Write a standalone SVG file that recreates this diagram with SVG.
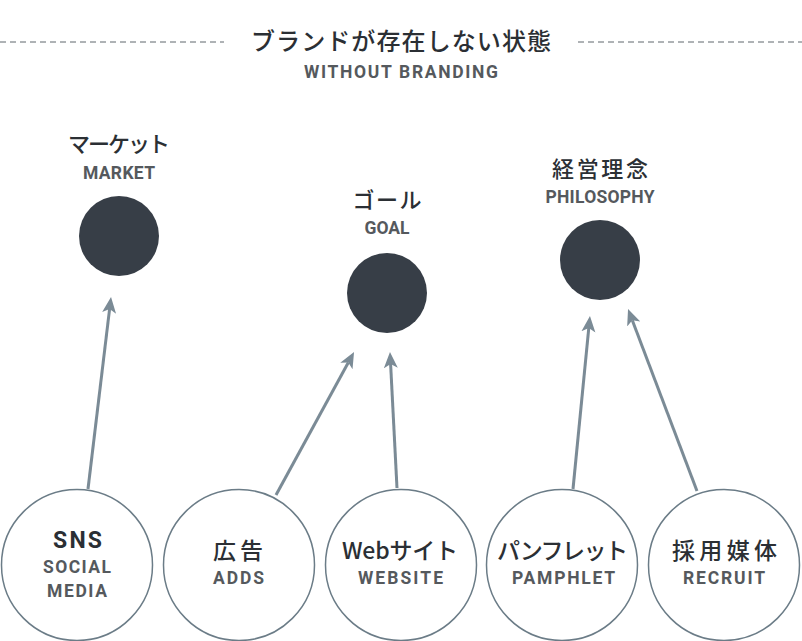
<svg xmlns="http://www.w3.org/2000/svg" width="802" height="641" viewBox="0 0 802 641">
<style>
.jp{font-family:"Noto Sans CJK JP","Noto Sans",sans-serif;font-weight:500;fill:#2b2f34;text-anchor:middle}
.en{font-family:Roboto,"Liberation Sans",sans-serif;font-weight:700;fill:#55595d;text-anchor:middle}
.dash{stroke:#5f666c;stroke-width:1;stroke-dasharray:6 4;fill:none}
.goal{fill:#373e47}
.src{fill:#fff;stroke:#6b7c87;stroke-width:1.5}
.arr{stroke:#7b8b96;stroke-width:3;fill:none;marker-end:url(#ah)}
</style>
<defs>
<marker id="ah" markerUnits="userSpaceOnUse" markerWidth="20" markerHeight="16" refX="4" refY="7" orient="auto">
<path d="M0,0 L16,7 L0,14 L4,7 z" fill="#7b8b96"/>
</marker>
</defs>
<g id="title">
<line class="dash" x1="0" y1="42" x2="224" y2="42"/>
<line class="dash" x1="578" y1="42" x2="802" y2="42"/>
<text class="jp" x="401" y="50" font-size="24" textLength="300" lengthAdjust="spacing">ブランドが存在しない状態</text>
<text class="en" x="401" y="78" font-size="17.5" textLength="194" lengthAdjust="spacing">WITHOUT BRANDING</text>
</g>
<g id="market">
<text class="jp" x="119" y="152" font-size="22" textLength="102" lengthAdjust="spacing">マーケット</text>
<text class="en" x="119" y="179" font-size="17.5" textLength="72" lengthAdjust="spacing">MARKET</text>
<circle class="goal" cx="119" cy="236" r="40"/>
</g>
<g id="goal">
<text class="jp" x="387" y="208" font-size="22" textLength="69" lengthAdjust="spacing">ゴール</text>
<text class="en" x="387" y="234" font-size="17.5" textLength="45" lengthAdjust="spacing">GOAL</text>
<circle class="goal" cx="387" cy="293" r="40"/>
</g>
<g id="philosophy">
<text class="jp" x="600" y="177" font-size="22" textLength="96" lengthAdjust="spacing">経営理念</text>
<text class="en" x="600" y="203" font-size="17.5" textLength="109" lengthAdjust="spacing">PHILOSOPHY</text>
<circle class="goal" cx="600" cy="260" r="40"/>
</g>
<g id="sns">
<circle class="src" cx="77" cy="565" r="75.5"/>
<text class="en" x="77.5" y="548" font-size="23" style="fill:#2b2f34" textLength="49" lengthAdjust="spacing">SNS</text>
<text class="en" x="77" y="573" font-size="17.5" textLength="68" lengthAdjust="spacing">SOCIAL</text>
<text class="en" x="77" y="597" font-size="17.5" textLength="60" lengthAdjust="spacing">MEDIA</text>
</g>
<g id="adds">
<circle class="src" cx="239" cy="565" r="75.5"/>
<text class="jp" x="238" y="559" font-size="23" textLength="50" lengthAdjust="spacing">広告</text>
<text class="en" x="238.5" y="584" font-size="17.5" textLength="51" lengthAdjust="spacing">ADDS</text>
</g>
<g id="website">
<circle class="src" cx="401" cy="565" r="75.5"/>
<text class="jp" x="400" y="559" font-size="23" textLength="116" lengthAdjust="spacing">Webサイト</text>
<text class="en" x="400.5" y="584" font-size="17.5" textLength="85" lengthAdjust="spacing">WEBSITE</text>
</g>
<g id="pamphlet">
<circle class="src" cx="562" cy="565" r="75.5"/>
<text class="jp" x="562.5" y="559" font-size="23" textLength="131" lengthAdjust="spacing">パンフレット</text>
<text class="en" x="563.5" y="584" font-size="17.5" textLength="103" lengthAdjust="spacing">PAMPHLET</text>
</g>
<g id="recruit">
<circle class="src" cx="724" cy="565" r="75.5"/>
<text class="jp" x="724.5" y="559" font-size="23" textLength="105" lengthAdjust="spacing">採用媒体</text>
<text class="en" x="724" y="584" font-size="17.5" textLength="82" lengthAdjust="spacing">RECRUIT</text>
</g>
<g id="connectors">
<line class="arr" x1="88" y1="489" x2="109.6" y2="308.9"/>
<line class="arr" x1="276" y1="495" x2="348.3" y2="362.5"/>
<line class="arr" x1="397" y1="488" x2="390.6" y2="364"/>
<line class="arr" x1="573" y1="489" x2="588.8" y2="327.9"/>
<line class="arr" x1="697" y1="491" x2="632.3" y2="320.2"/>
</g>
</svg>
